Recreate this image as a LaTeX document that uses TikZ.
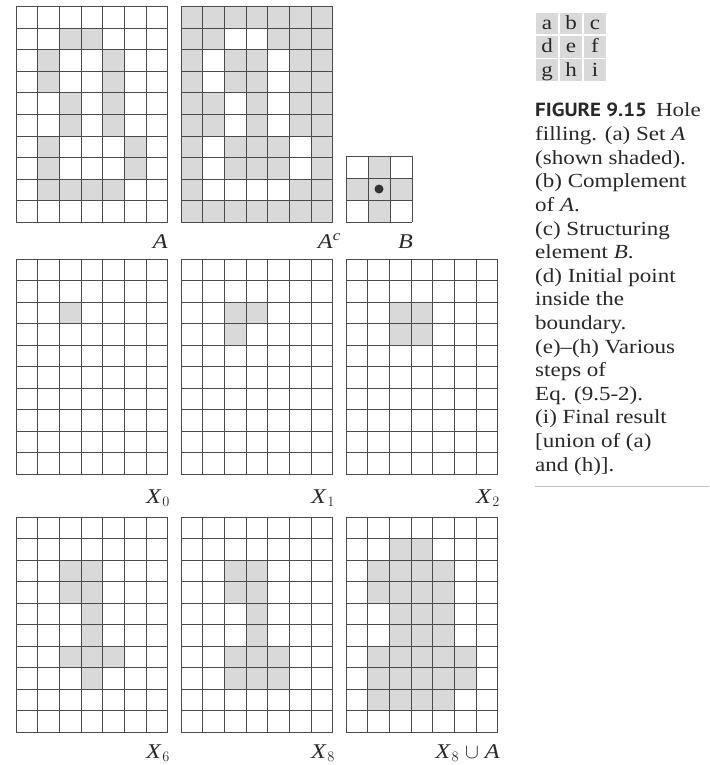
\documentclass[tikz,border=0pt]{standalone}
\usepackage{fontspec}
\setmainfont{Liberation Serif}[FakeStretch=1.15]
\newfontfamily\figfont{PT Sans}[FakeStretch=1.1]
\definecolor{cellgray}{RGB}{217,217,217}
\definecolor{linegray}{RGB}{75,75,75}
\definecolor{txt}{RGB}{40,40,40}
\def\cw{21.7}
\def\ch{21.5}
\newcommand\gridlines[4]{%
  \foreach \i in {0,...,#3}{\draw[gline] ({#1+\i*\cw},#2) -- ({#1+\i*\cw},{#2+#4*\ch});}
  \foreach \j in {0,...,#4}{\draw[gline] (#1,{#2+\j*\ch}) -- ({#1+#3*\cw},{#2+\j*\ch});}
}
\newcommand\cells[4]{%
  \foreach \r/\c in {#3}{\fill[#4] ({#1+(\c-1)*\cw},{#2+(\r-1)*\ch}) rectangle ++(\cw,\ch);}
}
\begin{document}
\begin{tikzpicture}[x=1pt,y=-1pt,
  gline/.style={draw=linegray,line width=1pt},
  lbl/.style={inner sep=0pt,anchor=base east,text=txt,font=\fontsize{21}{25}\selectfont},
  captext/.style={inner sep=0pt,anchor=base west,text=txt,font=\fontsize{20}{23}\selectfont},
  tabtext/.style={inner sep=0pt,anchor=base,text=txt,font=\fontsize{20}{23}\selectfont}]
\useasboundingbox (0,0) rectangle (709,765);
\fill[white] (0,0) rectangle (709,765);
% ---- A
\cells{16}{7}{2/3,2/4,3/2,3/5,4/2,4/5,5/3,5/5,6/3,6/5,7/2,7/6,8/2,8/6,9/2,9/3,9/4,9/5}{cellgray}
\gridlines{16}{7}{7}{10}
\node[lbl] (la) at (168,248) {\textit{A}};
% ---- A^c
\fill[cellgray] (181,7) rectangle ++({7*\cw},{10*\ch});
\cells{181}{7}{2/3,2/4,3/2,3/5,4/2,4/5,5/3,5/5,6/3,6/5,7/2,7/6,8/2,8/6,9/2,9/3,9/4,9/5}{white}
\gridlines{181}{7}{7}{10}
\node[lbl] (lac) at (341,248) {\textit{A}\textsuperscript{\textit{c}}};
% ---- B
\begin{scope}
\def\cw{22}\def\ch{22}
\cells{346}{156}{1/2,2/1,2/2,2/3,3/2}{cellgray}
\gridlines{346}{156}{3}{3}
\fill[black!80] (379,189) circle (4.5);
\end{scope}
\node[lbl] (lb) at (413,248) {\textit{B}};
% ---- X0, X1, X2
\cells{16}{259}{3/3}{cellgray}
\gridlines{16}{259}{7}{10}
\node[lbl] (lx0) at (170,503) {\textit{X}\kern0.5pt$_0$};
\cells{181}{259}{3/3,3/4,4/3}{cellgray}
\gridlines{181}{259}{7}{10}
\node[lbl] (lx1) at (335,503) {\textit{X}\kern0.5pt$_1$};
\cells{346}{259}{3/3,3/4,4/3,4/4}{cellgray}
\gridlines{346}{259}{7}{10}
\node[lbl] (lx2) at (500,503) {\textit{X}\kern0.5pt$_2$};
% ---- X6, X8, X8 u A
\cells{16}{517}{3/3,3/4,4/3,4/4,5/4,6/4,7/3,7/4,7/5,8/4}{cellgray}
\gridlines{16}{517}{7}{10}
\node[lbl] (lx6) at (170,758) {\textit{X}\kern0.5pt$_6$};
\cells{181}{517}{3/3,3/4,4/3,4/4,5/4,6/4,7/3,7/4,7/5,8/3,8/4,8/5}{cellgray}
\gridlines{181}{517}{7}{10}
\node[lbl] (lx8) at (335,758) {\textit{X}\kern0.5pt$_8$};
\cells{346}{517}{2/3,2/4,3/2,3/3,3/4,3/5,4/2,4/3,4/4,4/5,5/3,5/4,5/5,6/3,6/4,6/5,7/2,7/3,7/4,7/5,7/6,8/2,8/3,8/4,8/5,8/6,9/2,9/3,9/4,9/5}{cellgray}
\gridlines{346}{517}{7}{10}
\node[lbl] (lxu) at (500,758) {\textit{X}\kern0.5pt$_8$ $\cup$ \textit{A}};
% ---- layout key
\foreach \j in {0,1,2}{\foreach \i in {0,1,2}{
  \fill[cellgray] ({535+24*\i+0.8},{12+23.3*\j+0.8}) rectangle ++(22.4,21.7);}}
\node[tabtext] (ta) at (547,29.5) {a};
\node[tabtext] (tb) at (571,29.5) {b};
\node[tabtext] (tc) at (595,29.5) {c};
\node[tabtext] (td) at (547,52.8) {d};
\node[tabtext] (te) at (571,52.8) {e};
\node[tabtext] (tf) at (595,52.8) {f};
\node[tabtext] (tg) at (547,76.1) {g};
\node[tabtext] (th) at (571,76.1) {h};
\node[tabtext] (ti) at (595,76.1) {i};
% ---- caption
\node[captext] (c1) at (535,117) {{\figfont\fontsize{19}{23}\selectfont\bfseries FIGURE 9.15}\hspace{9pt}Hole};
\node[captext] (c2) at (535,140.6) {filling. (a) Set \textit{A}};
\node[captext] (c3) at (535,164.2) {(shown shaded).};
\node[captext] (c4) at (535,187.8) {(b) Complement};
\node[captext] (c5) at (535,211.4) {of \textit{A}.};
\node[captext] (c6) at (535,235.0) {(c) Structuring};
\node[captext] (c7) at (535,258.6) {element \textit{B}.};
\node[captext] (c8) at (535,282.2) {(d) Initial point};
\node[captext] (c9) at (535,305.8) {inside the};
\node[captext] (c10) at (535,329.4) {boundary.};
\node[captext] (c11) at (535,353.0) {(e)--(h) Various};
\node[captext] (c12) at (535,376.6) {steps of};
\node[captext] (c13) at (535,400.2) {Eq. (9.5-2).};
\node[captext] (c14) at (535,423.8) {(i) Final result};
\node[captext] (c15) at (535,447.4) {[union of (a)};
\node[captext] (c16) at (535,471.0) {and (h)].};
\draw[black!25,line width=0.8pt] (535,486) -- (709,486);
\end{tikzpicture}
\end{document}
